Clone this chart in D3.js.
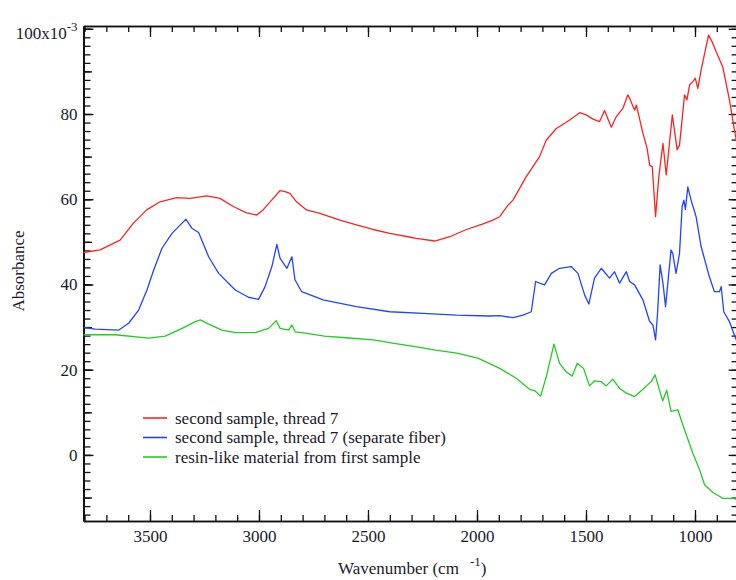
<!DOCTYPE html>
<html>
<head>
<meta charset="utf-8">
<script src="https://cdn.jsdelivr.net/npm/d3@7"></script>
<style>
  body { margin: 0; background: #fff; }
  svg { display: block; font-family: "Liberation Serif", "Times New Roman", serif; }
  .axis path, .axis line { stroke: #111; }
  .axis text { font-family: "Liberation Serif", "Times New Roman", serif; font-size: 17px; fill: #1a1a2a; }
</style>
</head>
<body>
<svg id="chart" width="736" height="580"></svg>
<script>
// spectra (wavenumber in cm-1, absorbance x10^-3)
var redWn  = [3805, 3729, 3637, 3576, 3515, 3454, 3378, 3317, 3240, 3179, 3118, 3057, 3011, 2981, 2942, 2904, 2880, 2858, 2828, 2782, 2721, 2629, 2553, 2477, 2400, 2316, 2278, 2194, 2125, 2049, 1972, 1927, 1896, 1858, 1835, 1774, 1713, 1682, 1636, 1575, 1529, 1499, 1468, 1438, 1415, 1384, 1361, 1331, 1308, 1300, 1277, 1269, 1239, 1220, 1208, 1196, 1181, 1166, 1147, 1132, 1104, 1082, 1071, 1048, 1037, 1025, 1010, 999, 987, 972, 938, 920, 903, 873, 842, 819, 800];
var redAbs = [47.5, 48.1, 50.4, 54.4, 57.5, 59.4, 60.4, 60.2, 60.8, 60.2, 58.3, 56.8, 56.3, 57.5, 59.8, 62.0, 61.8, 61.4, 59.4, 57.5, 56.7, 55.1, 54.0, 52.9, 52.0, 51.2, 50.8, 50.2, 51.2, 52.9, 54.2, 55.1, 55.9, 58.6, 59.8, 65.3, 70.0, 73.9, 76.6, 78.6, 80.3, 79.8, 78.8, 78.2, 80.8, 76.9, 79.4, 81.3, 84.5, 83.7, 80.9, 82.1, 75.5, 72.0, 68.0, 67.6, 55.9, 65.3, 73.1, 65.7, 79.8, 71.6, 72.7, 84.5, 83.3, 86.8, 87.6, 88.4, 86.0, 90.3, 98.5, 96.8, 94.6, 91.1, 83.3, 76.2, 71.0];

var blueWn  = [3805, 3751, 3643, 3598, 3552, 3514, 3483, 3445, 3399, 3353, 3335, 3308, 3277, 3231, 3185, 3109, 3048, 3002, 2972, 2941, 2918, 2903, 2872, 2849, 2835, 2804, 2706, 2553, 2400, 2247, 2094, 1942, 1896, 1835, 1789, 1751, 1731, 1713, 1690, 1659, 1621, 1568, 1537, 1506, 1487, 1461, 1430, 1392, 1369, 1346, 1315, 1300, 1277, 1239, 1208, 1193, 1181, 1172, 1160, 1147, 1135, 1110, 1102, 1087, 1071, 1059, 1051, 1044, 1033, 1018, 995, 972, 934, 911, 888, 880, 868, 842, 814, 800];
var blueAbs = [29.9, 29.5, 29.3, 30.9, 34.0, 38.7, 43.4, 48.5, 52.0, 54.4, 55.3, 53.2, 52.2, 46.5, 42.6, 38.7, 37.0, 36.5, 39.5, 44.2, 49.4, 46.1, 43.8, 46.5, 41.1, 38.3, 36.4, 34.8, 33.6, 33.2, 32.8, 32.6, 32.7, 32.2, 32.8, 33.6, 40.7, 40.3, 39.9, 42.6, 43.8, 44.2, 42.6, 37.5, 35.4, 41.5, 43.8, 41.5, 43.0, 40.3, 43.0, 40.7, 39.9, 36.4, 31.3, 30.5, 27.0, 33.0, 44.6, 40.3, 34.8, 48.1, 47.3, 42.6, 47.3, 58.3, 59.8, 57.6, 62.9, 59.8, 55.9, 48.9, 41.8, 38.3, 38.3, 39.5, 33.6, 31.3, 27.4, 26.0];

var greenWn  = [3805, 3659, 3506, 3430, 3353, 3292, 3269, 3231, 3170, 3109, 3017, 2956, 2921, 2903, 2864, 2849, 2834, 2804, 2700, 2600, 2476, 2380, 2284, 2190, 2092, 1996, 1896, 1820, 1759, 1736, 1708, 1682, 1647, 1621, 1591, 1563, 1540, 1511, 1484, 1461, 1430, 1407, 1377, 1346, 1315, 1277, 1239, 1201, 1183, 1163, 1148, 1130, 1110, 1079, 1048, 1010, 979, 956, 918, 872, 826, 800];
var greenAbs = [28.2, 28.2, 27.4, 27.9, 29.7, 31.3, 31.7, 30.7, 29.3, 28.7, 28.7, 29.7, 31.5, 29.7, 29.3, 30.5, 28.9, 28.7, 27.9, 27.5, 27.0, 26.2, 25.4, 24.6, 23.9, 22.7, 20.3, 18.0, 15.4, 15.1, 13.8, 18.4, 26.0, 21.5, 19.5, 18.5, 21.5, 20.3, 16.2, 17.4, 17.2, 16.2, 17.8, 15.6, 14.5, 13.7, 15.4, 17.2, 18.8, 15.2, 12.7, 15.2, 10.2, 10.6, 5.9, 0.4, -3.5, -7.0, -8.8, -10.2, -10.2, -10.5];

var seriesNames  = ["second sample, thread 7", "second sample, thread 7 (separate fiber)", "resin-like material from first sample"];
var seriesColors = ["#ff2222", "#2244ff", "#22cc22"];

var xMajorTicks = [3500, 3000, 2500, 2000, 1500, 1000];
var yMajorTicks = [0, 20, 40, 60, 80, 100];

var serif = "'Liberation Serif', 'Times New Roman', serif";
var svg = d3.select("#chart");

var x = d3.scaleLinear().domain([3805, 800]).range([83.5, 738.6]);
var y = d3.scaleLinear().domain([-15.5, 100.65]).range([521, 26]);

var xMinor = d3.range(900, 3801, 100);
var yMinor = d3.range(-14, 101, 2);
var yMid = d3.range(-10, 101, 10);

function addAxis(axis, tx, ty) {
    var g = svg.append("g")
        .attr("class", "axis")
        .attr("transform", "translate(" + tx + "," + ty + ")")
        .call(axis);
    g.attr("font-family", serif);
    return g;
}

// bottom + top
addAxis(d3.axisBottom(x).tickValues(xMinor).tickSize(-6).tickSizeOuter(0).tickFormat(""), 0, 521);
addAxis(d3.axisBottom(x).tickValues(xMajorTicks).tickSize(-11).tickSizeOuter(0).tickPadding(9).tickFormat(d3.format("d")), 0, 521);
addAxis(d3.axisTop(x).tickValues(xMinor).tickSize(-6).tickSizeOuter(0).tickFormat(""), 0, 26);
addAxis(d3.axisTop(x).tickValues(xMajorTicks).tickSize(-11).tickSizeOuter(0).tickFormat(""), 0, 26);

// left + right
addAxis(d3.axisLeft(y).tickValues(yMinor).tickSize(-7).tickSizeOuter(0).tickFormat(""), 83.5, 0);
addAxis(d3.axisLeft(y).tickValues(yMid).tickSize(-8.5).tickSizeOuter(0).tickFormat(""), 83.5, 0);
var yLab = addAxis(d3.axisLeft(y).tickValues(yMajorTicks).tickSize(-10).tickSizeOuter(0).tickPadding(6).tickFormat(d3.format("d")), 83.5, 0);
addAxis(d3.axisRight(y).tickValues(yMinor).tickSize(-7).tickSizeOuter(0).tickFormat(""), 738.6, 0);
addAxis(d3.axisRight(y).tickValues(yMajorTicks).tickSize(-10).tickSizeOuter(0).tickFormat(""), 738.6, 0);

svg.selectAll(".axis path.domain").attr("stroke-width", 1.6);
svg.selectAll(".axis .tick line").attr("stroke-width", 1.3);

yLab.selectAll(".tick text")
    .filter(function(d) { return d === 100; })
    .attr("dy", "0.55em")
    .text("100x10")
    .append("tspan")
    .attr("dy", "-0.55em")
    .attr("font-size", "13px")
    .text("-3");

// spectra
var line = d3.line()
    .x(function(d) { return x(d[0]); })
    .y(function(d) { return y(d[1]); });

var plot = svg.append("g");
[[redWn, redAbs], [blueWn, blueAbs], [greenWn, greenAbs]].forEach(function(s, i) {
    plot.append("path")
        .datum(d3.zip(s[0], s[1]))
        .attr("fill", "none")
        .attr("stroke", seriesColors[i])
        .attr("stroke-width", 1.3)
        .attr("stroke-linejoin", "round")
        .attr("d", line);
});

// legend
var legend = svg.append("g").attr("transform", "translate(143,418)");
seriesNames.forEach(function(name, i) {
    var row = legend.append("g").attr("transform", "translate(0," + (i * 19.5) + ")");
    row.append("line")
        .attr("x1", 0).attr("x2", 24)
        .attr("stroke", seriesColors[i])
        .attr("stroke-width", 1.6);
    row.append("text")
        .attr("x", 32)
        .attr("dy", "0.35em")
        .attr("font-family", serif)
        .attr("font-size", "17px")
        .attr("fill", "#1a1a2a")
        .text(name);
});

// axis titles
var xt = svg.append("text")
    .attr("x", 338)
    .attr("y", 574)
    .attr("font-family", serif)
    .attr("font-size", "17px")
    .attr("fill", "#1a1a2a")
    .text("Wavenumber (cm");
xt.append("tspan").attr("x", 470).attr("dy", -8).attr("font-size", "13px").text("-1");
xt.append("tspan").attr("dy", 8).text(")");

svg.append("text")
    .attr("transform", "translate(24,271) rotate(-90)")
    .attr("text-anchor", "middle")
    .attr("font-family", serif)
    .attr("font-size", "17px")
    .attr("fill", "#1a1a2a")
    .text("Absorbance");
</script>
</body>
</html>
